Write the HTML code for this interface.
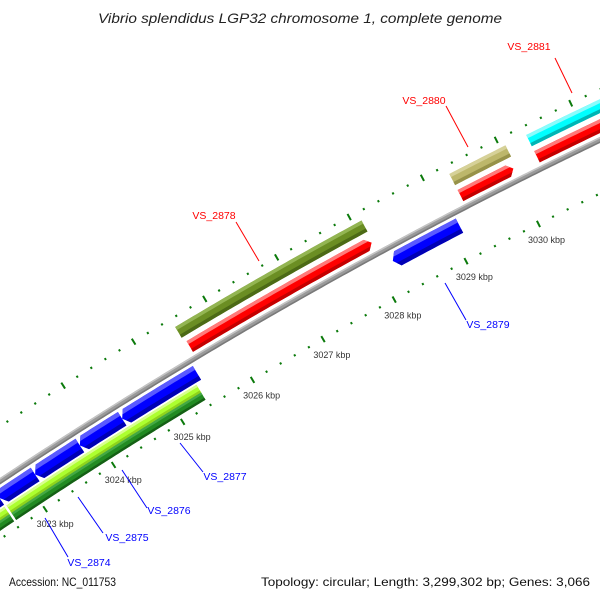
<!DOCTYPE html>
<html><head><meta charset="utf-8"><style>
html,body{margin:0;padding:0;background:#fff;width:600px;height:600px;overflow:hidden;}
svg{display:block;font-family:"Liberation Sans",sans-serif;overflow:hidden;}
</style></head><body>
<svg id="map" width="600" height="600" viewBox="0 0 600 600" xmlns="http://www.w3.org/2000/svg">
<rect width="600" height="600" fill="#fff"/>
<defs id="defs"></defs>
<g id="ticks"></g>
<g id="feats"></g>
<g id="labels"></g>
<text x="300" y="23" text-anchor="middle" font-size="14" font-style="italic" fill="#222" textLength="404" lengthAdjust="spacingAndGlyphs">Vibrio splendidus LGP32 chromosome 1, complete genome</text>
<text x="9" y="586" font-size="12" fill="#111" textLength="107" lengthAdjust="spacingAndGlyphs">Accession: NC_011753</text>
<text x="590" y="586" text-anchor="end" font-size="12" fill="#111" textLength="329" lengthAdjust="spacingAndGlyphs">Topology: circular; Length: 3,299,302 bp; Genes: 3,066</text>
</svg>
<script>
// ---- data (kbp positions) ----
const majorTicks=[3021,3022,3023,3024,3025,3026,3027,3028,3029,3030,3031,3032];
const labeledTicks=[3023,3024,3025,3026,3027,3028,3029,3030];
const redStarts=[3025.55,3029.31,3030.35];
const redEnds=[3028.09,3030.03,3032.6];
const topStarts=[3025.52,3029.31,3030.35];
const topEnds=[3028.11,3030.07,3032.6];
const topCats=['olive','khaki','cyan'];
const blueStarts=[3021.4,3022.61,3023.13,3023.78,3024.39,3028.21];
const blueEnds=[3022.61,3023.13,3023.78,3024.39,3025.46,3029.13];
const limeStarts=[3021.0,3022.63];
const limeEnds=[3022.6,3025.38];
const labelNames=['VS_2881','VS_2880','VS_2878','VS_2879','VS_2877','VS_2876','VS_2875','VS_2874'];
const labelStrands=[1,1,1,-1,-1,-1,-1,-1];

// ---- geometry ----
const NS='http://www.w3.org/2000/svg';
const CX=2741.5, CY=4603, A0=-33.37, DPK=0.952;
function ang(k){return (A0+DPK*(k-3023))*Math.PI/180;}
function P(k,r){const a=ang(k);return [CX+r*Math.sin(a),CY-r*Math.cos(a)];}
function arcPts(k1,k2,r){const n=Math.max(2,Math.ceil(Math.abs(k2-k1)*20));const o=[];for(let i=0;i<=n;i++)o.push(P(k1+(k2-k1)*i/n,r));return o;}
function toD(pts){return 'M'+pts.map(p=>p[0].toFixed(2)+','+p[1].toFixed(2)).join('L')+'Z';}
function bandD(k1,k2,r1,r2){return toD(arcPts(k1,k2,r2).concat(arcPts(k2,k1,r1)));}
function featD(k1,k2,r1,r2,dir){
  const h=0.07,m=(r1+r2)/2;
  if(dir===1){return toD(arcPts(k1,k2-h,r2).concat([P(k2,m)],arcPts(k2-h,k1,r1)));}
  if(dir===-1){return toD([P(k1,m)].concat(arcPts(k1+h,k2,r2),arcPts(k2,k1+h,r1)));}
  return bandD(k1,k2,r1,r2);
}
const COL={
 red:['#ff0000','#ff7a7a','#c40000'],olive:['#6b8e23','#93b552','#4c6a16'],
 khaki:['#bdb76b','#d6d198','#979249'],cyan:['#00ffff','#8afcfc','#00b5b5'],
 blue:['#0000ff','#5a5aff','#0000b4'],lime:['#adff2f','#d8ff90','#8fd41c'],
 green:['#228b22','#44a844','#156015'],gray:['#9a9a9a','#c4c4c4','#7a7a7a']};
const defs=document.getElementById('defs');
const feats=document.getElementById('feats');
let cid=0;
function drawFeature(k1,k2,r1,r2,dir,col,name){
  const id='c'+(cid++);
  const cp=document.createElementNS(NS,'clipPath');cp.setAttribute('id',id);
  const cpp=document.createElementNS(NS,'path');cpp.setAttribute('d',featD(k1,k2,r1,r2,dir));
  cp.appendChild(cpp);defs.appendChild(cp);
  const g=document.createElementNS(NS,'g');
  
  
  g.setAttribute('clip-path','url(#'+id+')');
  const c=COL[col];const t=(r2-r1)*0.28;
  [[r1-2,r2+2,c[0]],[r2-t,r2+2,c[1]],[r1-2,r1+t,c[2]]].forEach(b=>{
    const p=document.createElementNS(NS,'path');
    p.setAttribute('d',bandD(k1-0.1,k2+0.1,b[0],b[1]));p.setAttribute('fill',b[2]);g.appendChild(p);});
  feats.appendChild(g);
}
// backbone
drawFeature(3019,3035,4947.5,4953,0,'gray','backbone');
redStarts.forEach((s,i)=>drawFeature(s,redEnds[i],4956.5,4969,1,'red','forward-feature-'+(i+1)));
topStarts.forEach((s,i)=>drawFeature(s,topEnds[i],4974.5,4987,0,topCats[i],'forward-category-'+(i+1)));
blueStarts.forEach((s,i)=>drawFeature(s,blueEnds[i],4928.5,4944.5,-1,'blue','reverse-feature-'+(i+1)));
limeStarts.forEach((s,i)=>drawFeature(s,limeEnds[i],4917.5,4926.5,0,'lime','reverse-category-a-'+(i+1)));
limeStarts.forEach((s,i)=>drawFeature(s,limeEnds[i],4909,4917.5,0,'green','reverse-category-b-'+(i+1)));

// ticks
const tg=document.getElementById('ticks');
function tick(k,r,len,w,name){
  const a=P(k,r-len/2),b=P(k,r+len/2);
  const l=document.createElementNS(NS,'line');
  l.setAttribute('x1',a[0]);l.setAttribute('y1',a[1]);l.setAttribute('x2',b[0]);l.setAttribute('y2',b[1]);
  l.setAttribute('stroke','#0b7a0b');l.setAttribute('stroke-width',w);
  
  
  tg.appendChild(l);
}
for(let i=0;i<majorTicks.length;i++){
  const k=majorTicks[i];
  tick(k,4902,7,2,'inner-major-tick');tick(k,4996,7,2,'outer-major-tick');
  for(let j=1;j<5;j++){tick(k+j*0.2,4902,2.2,2,'inner-minor-tick');tick(k+j*0.2,4996,2.2,2,'outer-minor-tick');}
}
labeledTicks.forEach(k=>{
  const p=P(k,4884);
  const t=document.createElementNS(NS,'text');
  t.setAttribute('x',p[0]);t.setAttribute('y',p[1]+3);t.setAttribute('text-anchor','middle');
  t.setAttribute('font-size','9');t.setAttribute('fill','#333');
  
  
  t.textContent=k+' kbp';tg.appendChild(t);
});
// labels
const lg=document.getElementById('labels');
const labelLayout=[[529,50,555,58,572,93],[424,104,446,106,468,147],[214,219,236,222,259,261],
 [488,328,445,283,466,320],[225,480,180,443,203,472],[169,514,122,470,147,508],
 [127,541,78,497,103,533],[89,566,45,518,68,557]];
labelNames.forEach((n,i)=>{
  const L=labelLayout[i];const c=labelStrands[i]===1?'#ff0000':'#0000ff';
  const ln=document.createElementNS(NS,'line');
  ln.setAttribute('x1',L[2]);ln.setAttribute('y1',L[3]);ln.setAttribute('x2',L[4]);ln.setAttribute('y2',L[5]);
  ln.setAttribute('stroke',c);ln.setAttribute('stroke-width','1');
  
  
  lg.appendChild(ln);
  const t=document.createElementNS(NS,'text');
  t.setAttribute('x',L[0]);t.setAttribute('y',L[1]);t.setAttribute('text-anchor','middle');
  t.setAttribute('font-size','10.5');t.setAttribute('fill',c);
  
  
  t.textContent=n;lg.appendChild(t);
});
</script>
</body></html>
